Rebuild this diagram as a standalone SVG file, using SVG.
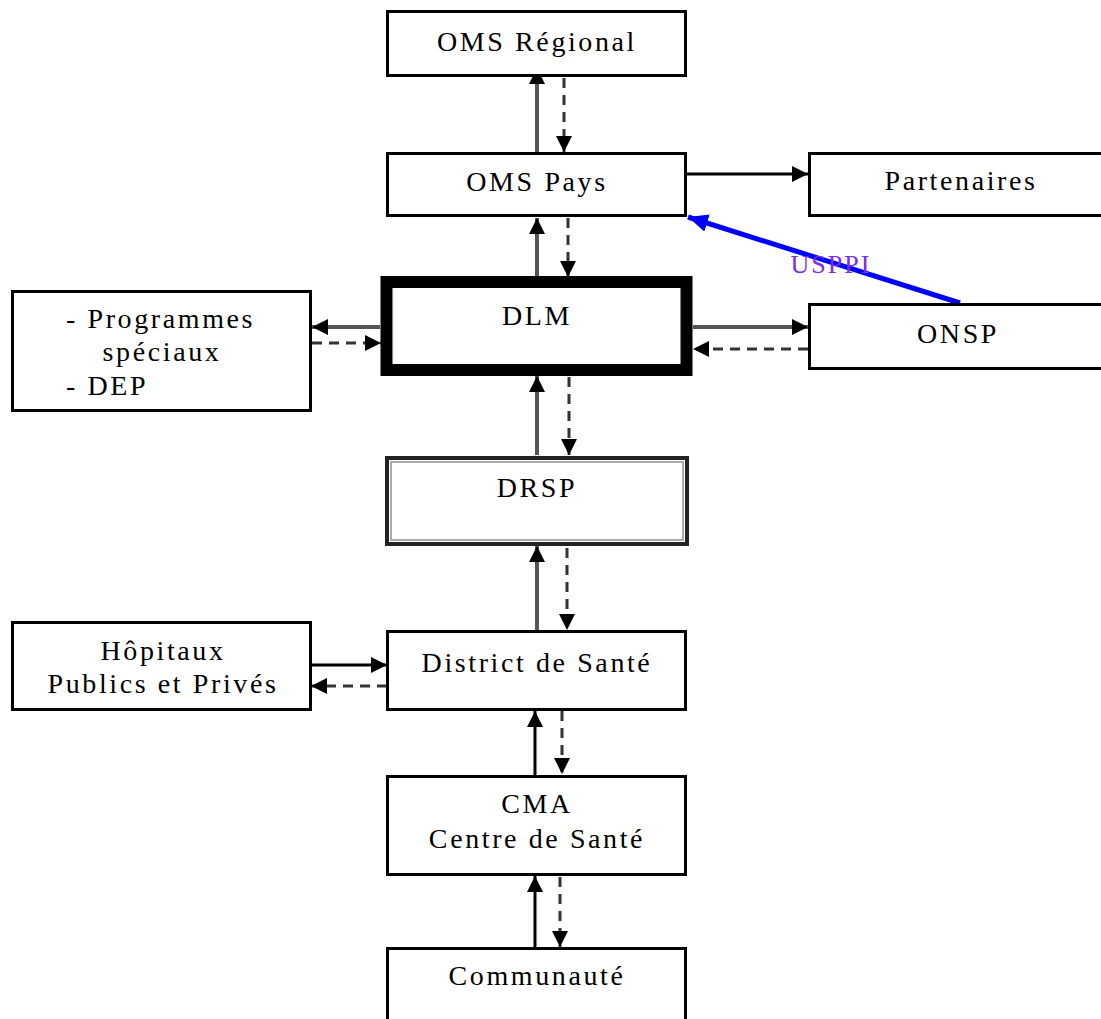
<svg xmlns="http://www.w3.org/2000/svg" width="1101" height="1019" viewBox="0 0 1101 1019">
<style>
.box{fill:#fff;stroke:#000;stroke-width:3}
.t{font-family:"Liberation Serif","Times New Roman",serif;font-size:28px;letter-spacing:2.6px;fill:#000}
.s{stroke:#000;stroke-width:3;fill:none}
.g{stroke:#555;stroke-width:4;fill:none}
.d{stroke:#333;stroke-width:3;stroke-dasharray:10 7;fill:none}
</style>
<defs>
<marker id="ah" markerUnits="userSpaceOnUse" markerWidth="18" markerHeight="18" viewBox="0 0 18 18" refX="16" refY="9" orient="auto">
<path d="M0,1 L16,9 L0,17 Z" fill="#000"/>
</marker>
<marker id="ahb" markerUnits="userSpaceOnUse" markerWidth="22" markerHeight="22" viewBox="0 0 22 22" refX="20" refY="11" orient="auto">
<path d="M0,2 L20,11 L0,20 Z" fill="#0000ff"/>
</marker>
</defs>

<g id="connectors">
<line class="g" x1="537" y1="153" x2="537" y2="68" marker-end="url(#ah)"/>
<line class="d" x1="564" y1="78" x2="564" y2="152" marker-end="url(#ah)"/>
<line class="g" x1="537" y1="277" x2="537" y2="218" marker-end="url(#ah)"/>
<line class="d" x1="568" y1="218" x2="568" y2="277" marker-end="url(#ah)"/>
<line class="g" x1="537" y1="455" x2="537" y2="376" marker-end="url(#ah)"/>
<line class="d" x1="569" y1="377" x2="569" y2="455" marker-end="url(#ah)"/>
<line class="g" x1="537" y1="631" x2="537" y2="546" marker-end="url(#ah)"/>
<line class="d" x1="567" y1="548" x2="567" y2="630" marker-end="url(#ah)"/>
<line class="s" x1="535" y1="776" x2="535" y2="711" marker-end="url(#ah)"/>
<line class="d" x1="562" y1="711" x2="562" y2="774" marker-end="url(#ah)"/>
<line class="s" x1="535" y1="948" x2="535" y2="876" marker-end="url(#ah)"/>
<line class="d" x1="560" y1="877" x2="560" y2="947" marker-end="url(#ah)"/>
<line class="s" x1="686" y1="174" x2="808" y2="174" marker-end="url(#ah)"/>
<line class="g" x1="693" y1="327" x2="808" y2="327" marker-end="url(#ah)"/>
<line class="d" x1="808" y1="349" x2="693" y2="349" marker-end="url(#ah)"/>
<line class="g" x1="380" y1="327" x2="312" y2="327" marker-end="url(#ah)"/>
<line class="d" x1="312" y1="343" x2="381" y2="343" marker-end="url(#ah)"/>
<line class="s" x1="311" y1="665" x2="387" y2="665" marker-end="url(#ah)"/>
<line class="d" x1="387" y1="686" x2="311" y2="686" marker-end="url(#ah)"/>
<line x1="960" y1="303" x2="688" y2="217" stroke="#0000ff" stroke-width="5" marker-end="url(#ahb)"/>
<text x="831" y="273" font-family="'Liberation Serif','Times New Roman',serif" font-size="26" letter-spacing="2" fill="#7a2cf5" text-anchor="middle">USPPI</text>
</g>

<g id="oms-regional">
<rect class="box" x="387.5" y="11.5" width="298" height="64"/>
<text class="t" x="537" y="51" text-anchor="middle">OMS Régional</text>
</g>
<g id="oms-pays">
<rect class="box" x="387.5" y="153.5" width="298" height="62"/>
<text class="t" x="537" y="191" text-anchor="middle">OMS Pays</text>
</g>
<g id="partenaires">
<rect class="box" x="809.5" y="153.5" width="300" height="62"/>
<text class="t" x="961" y="190" text-anchor="middle">Partenaires</text>
</g>
<g id="dlm">
<rect x="386.5" y="282" width="300" height="88" fill="#fff" stroke="#000" stroke-width="12"/>
<text class="t" x="537" y="325" text-anchor="middle">DLM</text>
</g>
<g id="programmes">
<rect class="box" x="12.5" y="291.5" width="298" height="119"/>
<text class="t" x="66" y="328" text-anchor="start">- Programmes</text>
<text class="t" x="162" y="361" text-anchor="middle">spéciaux</text>
<text class="t" x="66" y="395" text-anchor="start">- DEP</text>
</g>
<g id="onsp">
<rect class="box" x="809.5" y="304.5" width="300" height="64"/>
<text class="t" x="958" y="343" text-anchor="middle">ONSP</text>
</g>
<g id="drsp">
<rect x="387" y="458" width="300" height="86" fill="#fff" stroke="#222" stroke-width="4"/>
<rect x="391" y="462" width="292" height="78" fill="none" stroke="#aaa" stroke-width="2"/>
<text class="t" x="537" y="497" text-anchor="middle">DRSP</text>
</g>
<g id="hopitaux">
<rect class="box" x="12.5" y="622.5" width="298" height="87"/>
<text class="t" x="163" y="660" text-anchor="middle">Hôpitaux</text>
<text class="t" x="163" y="693" text-anchor="middle">Publics et Privés</text>
</g>
<g id="district">
<rect class="box" x="387.5" y="631.5" width="298" height="78"/>
<text class="t" x="537" y="672" text-anchor="middle">District de Santé</text>
</g>
<g id="cma">
<rect class="box" x="387.5" y="776.5" width="298" height="98"/>
<text class="t" x="537" y="813" text-anchor="middle">CMA</text>
<text class="t" x="537" y="848" text-anchor="middle">Centre de Santé</text>
</g>
<g id="communaute">
<rect class="box" x="387.5" y="948.5" width="298" height="80"/>
<text class="t" x="537" y="985" text-anchor="middle">Communauté</text>
</g>
</svg>
